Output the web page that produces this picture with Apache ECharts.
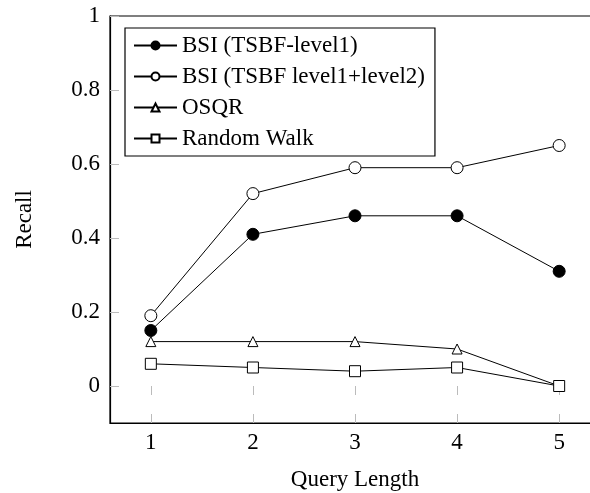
<!DOCTYPE html>
<html lang="en">
  <head>
    <meta charset="UTF-8">
    <title>Recall vs Query Length</title>
    <style>
      html, body { margin: 0; padding: 0; background: #fff; }
      .chart { width: 590px; height: 493px; }
    </style>
  </head>
  <body>
    <div id="chart" class="chart"></div>
    <script src="https://cdn.jsdelivr.net/npm/echarts@6/dist/echarts.min.js"></script>
    <script type="text/javascript">
      // data
      var queryLength = [1, 2, 3, 4, 5];
      var bsiLevel1 = [0.15, 0.41, 0.46, 0.46, 0.31];
      var bsiLevel12 = [0.19, 0.52, 0.59, 0.59, 0.65];
      var osqr = [0.12, 0.12, 0.12, 0.10, 0.00];
      var randomWalk = [0.06, 0.05, 0.04, 0.05, 0.00];
      var yTicks = [0, 0.2, 0.4, 0.6, 0.8, 1];

      var seriesNames = ['BSI (TSBF-level1)', 'BSI (TSBF level1+level2)', 'OSQR', 'Random Walk'];
      var font = '"Liberation Serif", "DejaVu Serif", serif';

      function pairs(ys) {
        return queryLength.map(function(x, i) { return [x, ys[i]]; });
      }

      function lineSeries(name, ys, symbol, size, fill) {
        return {
          name: name,
          type: 'line',
          data: pairs(ys),
          symbol: symbol,
          symbolSize: size,
          showAllSymbol: true,
          lineStyle: { color: '#000', width: 1 },
          itemStyle: { color: fill, borderColor: '#000', borderWidth: 1 },
          emphasis: { disabled: true },
          z: 3
        };
      }

      var myChart = echarts.init(document.getElementById('chart'));

      var tickStyle = { show: true, inside: true, length: 9, lineStyle: { color: '#bbb', width: 1 } };

      var option = {
        backgroundColor: '#fff',
        animation: false,
        grid: {
          left: 110,
          top: 16,
          width: 490,
          bottom: 70,
          outerBoundsMode: 'none',
          containLabel: false,
          show: true,
          borderColor: '#000',
          borderWidth: 1.2,
          backgroundColor: 'transparent'
        },
        legend: {
          orient: 'vertical',
          left: 125,
          top: 28,
          data: seriesNames,
          itemWidth: 43,
          itemHeight: 10,
          itemGap: 8,
          padding: [6, 10, 6, 8],
          borderColor: '#000',
          borderWidth: 1.2,
          backgroundColor: '#fff',
          textStyle: { fontFamily: font, fontSize: 23, color: '#000' },
          z: 5
        },
        xAxis: [{
          type: 'value',
          min: 0.6,
          max: 5.4,
          name: 'Query Length',
          nameLocation: 'middle',
          nameGap: 45,
          nameTextStyle: { fontFamily: font, fontSize: 23, color: '#000' },
          axisLine: { show: true, onZero: false, lineStyle: { color: '#000', width: 1.2 } },
          axisTick: Object.assign({ customValues: queryLength }, tickStyle),
          axisLabel: { customValues: queryLength, fontFamily: font, fontSize: 23, color: '#000', margin: 8 },
          splitLine: { show: false }
        }, {
          type: 'value',
          position: 'top',
          min: 0.6,
          max: 5.4,
          axisLine: { show: false },
          axisTick: Object.assign({ customValues: queryLength }, tickStyle),
          axisLabel: { show: false },
          splitLine: { show: false }
        }],
        yAxis: [{
          type: 'value',
          min: -0.1,
          max: 1,
          name: 'Recall',
          nameLocation: 'middle',
          nameGap: 74,
          nameTextStyle: { fontFamily: font, fontSize: 23, color: '#000' },
          axisLine: { show: true, onZero: false, lineStyle: { color: '#000', width: 1.2 } },
          axisTick: Object.assign({ customValues: yTicks }, tickStyle),
          axisLabel: {
            customValues: yTicks,
            fontFamily: font,
            fontSize: 23,
            color: '#000',
            margin: 10,
            formatter: function(v) { return String(Math.round(v * 10) / 10); }
          },
          splitLine: { show: false }
        }, {
          type: 'value',
          position: 'right',
          min: -0.1,
          max: 1,
          axisLine: { show: false },
          axisTick: Object.assign({ customValues: yTicks }, tickStyle),
          axisLabel: { show: false },
          splitLine: { show: false }
        }],
        series: [
          lineSeries(seriesNames[0], bsiLevel1, 'circle', 12, '#000'),
          lineSeries(seriesNames[1], bsiLevel12, 'circle', 12, '#fff'),
          lineSeries(seriesNames[2], osqr, 'triangle', 10, '#fff'),
          lineSeries(seriesNames[3], randomWalk, 'rect', 11, '#fff')
        ]
      };

      myChart.setOption(option);
    </script>
  </body>
</html>
